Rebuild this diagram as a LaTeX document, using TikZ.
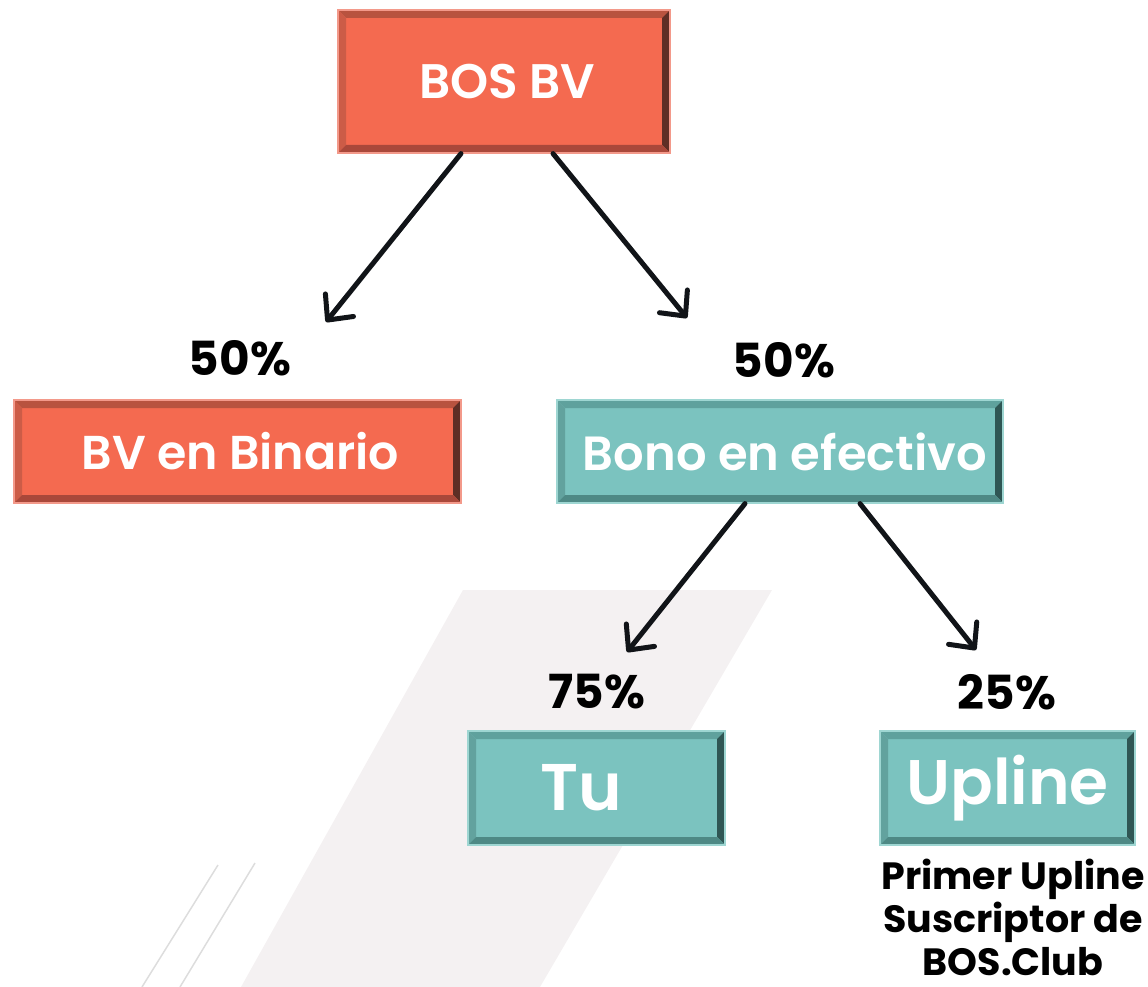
\documentclass[tikz,border=0pt]{standalone}
\usepackage{fontspec}
\setmainfont{Poppins}
\newfontfamily\semib{Poppins SemiBold}
\usetikzlibrary{arrows.meta}
\definecolor{coral}{HTML}{F46A50}
\definecolor{coraledge}{HTML}{F3998A}
\definecolor{coralT}{HTML}{B8533F}
\definecolor{coralL}{HTML}{CC5C47}
\definecolor{coralR}{HTML}{5E2E25}
\definecolor{coralB}{HTML}{A9483A}
\definecolor{teal}{HTML}{7BC3BF}
\definecolor{tealedge}{HTML}{9ED6D2}
\definecolor{tealT}{HTML}{5FA19D}
\definecolor{tealL}{HTML}{62A29E}
\definecolor{tealR}{HTML}{2F5654}
\definecolor{tealB}{HTML}{4E8985}
\definecolor{arrowc}{HTML}{111418}
\definecolor{bgshape}{HTML}{F4F1F2}
\definecolor{bgline}{HTML}{DDDDDD}
\newcommand{\bvw}{8pt}
\tikzset{
  bevel/.style n args={4}{path picture={
    \fill[#1] (path picture bounding box.north west) -- (path picture bounding box.north east)
      -- ([xshift=-\bvw,yshift=-\bvw]path picture bounding box.north east)
      -- ([xshift=\bvw,yshift=-\bvw]path picture bounding box.north west) -- cycle;
    \fill[#2] (path picture bounding box.north west) -- ([xshift=\bvw,yshift=-\bvw]path picture bounding box.north west)
      -- ([xshift=\bvw,yshift=\bvw]path picture bounding box.south west)
      -- (path picture bounding box.south west) -- cycle;
    \fill[#3] (path picture bounding box.north east) -- ([xshift=-\bvw,yshift=-\bvw]path picture bounding box.north east)
      -- ([xshift=-\bvw,yshift=\bvw]path picture bounding box.south east)
      -- (path picture bounding box.south east) -- cycle;
    \fill[#4] (path picture bounding box.south west) -- ([xshift=\bvw,yshift=\bvw]path picture bounding box.south west)
      -- ([xshift=-\bvw,yshift=\bvw]path picture bounding box.south east)
      -- (path picture bounding box.south east) -- cycle;
  }},
  box/.style={rectangle, inner sep=0pt, text=white, line width=1.2pt},
  coralbox/.style={box, fill=coral, draw=coraledge, bevel={coralT}{coralL}{coralR}{coralB}},
  tealbox/.style={box, fill=teal, draw=tealedge, bevel={tealT}{tealL}{tealR}{tealB}},
  pct/.style={font=\bfseries\fontsize{47}{50}\selectfont, text=black, inner sep=0pt},
  conn/.style={draw=arrowc, line width=5pt, line cap=round, -{Straight Barb[length=19pt,width=36pt,round]}},
}
\begin{document}
\begin{tikzpicture}[x=1pt,y=-1pt]
\useasboundingbox (0,0) rectangle (1148,987);
% background decoration
\fill[bgshape] (463,590) -- (772,590) -- (540,987) -- (241,987) -- cycle;
\draw[bgline, line width=1.5pt] (218,865) -- (142,987);
\draw[bgline, line width=1.5pt] (255,863) -- (180,987);
% boxes
\node[coralbox, minimum width=332pt, minimum height=143pt, font=\semib\fontsize{48.5}{52}\selectfont] (bos) at (504,81.5) {\rule{6pt}{0pt}BOS BV};
\node[coralbox, minimum width=447pt, minimum height=103pt, font=\semib\fontsize{47.5}{52}\selectfont] (bin) at (237.5,451.5) {\rule{6pt}{0pt}BV en Binario};
\node[tealbox, minimum width=446pt, minimum height=103pt, font=\semib\fontsize{48}{52}\selectfont] (bono) at (780,451.5) {\rule{10pt}{0pt}Bono en efectivo};
\node[tealbox, minimum width=257pt, minimum height=114pt, font=\semib\fontsize{66}{70}\selectfont] (tu) at (596.5,788) {Tu\rule{30pt}{0pt}};
\node[tealbox, minimum width=255pt, minimum height=114pt, font=\semib\fontsize{63}{66}\selectfont] (up) at (1007.5,788) {Upline};
% percentages
\node[pct] (p1) at (240,358) {50\%};
\node[pct] (p2) at (784,360) {50\%};
\node[pct] (p3) at (597,692) {75\%};
\node[pct] (p4) at (1007,692) {25\%};
% note
\node[font=\bfseries\fontsize{38}{43}\selectfont, align=center, inner sep=0pt] (note) at (1013,917) {Primer Upline\\Suscriptor de\\BOS.Club};
% arrows
\coordinate (t1) at (326,322);
\coordinate (t2) at (687,318);
\coordinate (t3) at (627,652);
\coordinate (t4) at (976,650);
\draw[conn] ([xshift=-43pt]bos.south) -- (t1);
\draw[conn] ([xshift=49pt]bos.south) -- (t2);
\draw[conn] ([xshift=-35pt]bono.south) -- (t3);
\draw[conn] ([xshift=80pt]bono.south) -- (t4);
\end{tikzpicture}
\end{document}
